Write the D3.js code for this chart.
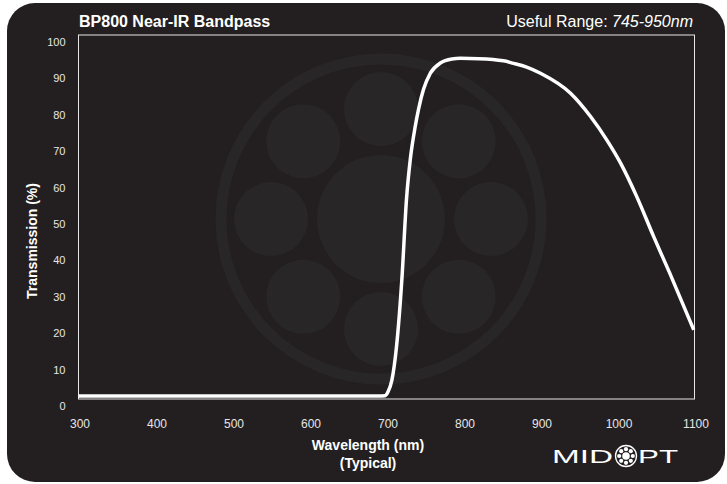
<!DOCTYPE html>
<html>
<head>
<meta charset="utf-8">
<script src="https://cdn.jsdelivr.net/npm/d3@7"></script>
<style>
  html, body { margin: 0; padding: 0; background: #fff; }
  svg { display: block; font-family: "Liberation Sans", Arial, sans-serif; }
</style>
</head>
<body>
<div id="chart"></div>
<script>
// Transmission curve
const wavelengths = [300, 500, 690, 698, 702, 707, 713, 720, 726, 731, 737, 742, 748, 757, 770, 785, 796, 820, 852, 865, 882, 900, 939, 965, 986, 1004, 1025, 1047, 1068, 1099];
const transmission = [0.8, 0.8, 0.8, 0.9, 2, 5.2, 14.4, 33, 55, 66, 74.5, 80, 85, 89.5, 92.3, 93.4, 93.6, 93.5, 92.9, 92.2, 91.2, 89.5, 84, 77.6, 71.2, 64.8, 55.6, 44.6, 34.5, 19];

const xTicks = [300, 400, 500, 600, 700, 800, 900, 1000, 1100];
const yTicks = [0, 10, 20, 30, 40, 50, 60, 70, 80, 90, 100];

const W = 727, H = 484;
const bg = "#231f20";
const ghost = "#292627";

const svg = d3.select("#chart").append("svg")
    .attr("width", W)
    .attr("height", H);

// dark card
svg.append("rect")
    .attr("x", 7).attr("y", 3)
    .attr("width", 718).attr("height", 479)
    .attr("rx", 28).attr("ry", 28)
    .attr("fill", bg);

// faint logo watermark behind the plot
const wm = svg.append("g").attr("transform", "translate(381,219)");
wm.append("circle")
    .attr("r", 160)
    .attr("fill", "none")
    .attr("stroke", ghost)
    .attr("stroke-width", 11);
wm.append("circle").attr("r", 64).attr("fill", ghost);
d3.range(8).forEach(i => {
    const a = i * Math.PI / 4;
    wm.append("circle")
        .attr("cx", 110 * Math.cos(a))
        .attr("cy", 110 * Math.sin(a))
        .attr("r", 37)
        .attr("fill", ghost);
});

const x = d3.scaleLinear().domain([300, 1100]).range([78.5, 694.5]);
const y = d3.scaleLinear().domain([0, 100]).range([399, 35]);

// plot frame
svg.append("rect")
    .attr("x", x(300)).attr("y", y(100))
    .attr("width", x(1100) - x(300))
    .attr("height", y(0) - y(100))
    .attr("fill", "none")
    .attr("stroke", "#e6e6e6")
    .attr("stroke-width", 1);

// axes
const yAxis = svg.append("g")
    .attr("transform", `translate(${x(300)},0)`)
    .call(d3.axisLeft(y).tickValues(yTicks).tickSize(0).tickPadding(13));
yAxis.select(".domain").remove();
yAxis.selectAll("text")
    .attr("transform", "translate(0,7)")
    .style("font-size", "11px")
    .style("fill", "#e6e6e6");

const xAxis = svg.append("g")
    .attr("transform", `translate(0,${y(0)})`)
    .call(d3.axisBottom(x).tickValues(xTicks).tickFormat(d3.format("d")).tickSize(0).tickPadding(20));
xAxis.select(".domain").remove();
xAxis.selectAll("text")
    .attr("dx", 1)
    .style("font-size", "12px")
    .style("fill", "#e6e6e6");

// curve
const pts = wavelengths.map((w, i) => [w, transmission[i]]);
svg.append("path")
    .datum(pts)
    .attr("fill", "none")
    .attr("stroke", "#fff")
    .attr("stroke-width", 3.5)
    .attr("stroke-linejoin", "round")
    .attr("d", d3.line()
        .x(d => x(d[0]))
        .y(d => y(d[1]))
        .curve(d3.curveMonotoneX));

// titles
svg.append("text")
    .attr("x", 79).attr("y", 27)
    .style("font-size", "16px")
    .style("font-weight", "bold")
    .style("fill", "#fff")
    .text("BP800 Near-IR Bandpass");

const range = svg.append("text")
    .attr("x", 693).attr("y", 27)
    .attr("text-anchor", "end")
    .style("font-size", "16px")
    .style("fill", "#fff");
range.append("tspan").text("Useful Range: ");
range.append("tspan").style("font-style", "italic").text("745-950nm");

svg.append("text")
    .attr("transform", "translate(37,241) rotate(-90)")
    .attr("text-anchor", "middle")
    .style("font-size", "14px")
    .style("font-weight", "bold")
    .style("fill", "#fff")
    .text("Transmission (%)");

svg.append("text")
    .attr("x", 368).attr("y", 450)
    .attr("text-anchor", "middle")
    .style("font-size", "14px")
    .style("font-weight", "bold")
    .style("fill", "#fff")
    .text("Wavelength (nm)");

svg.append("text")
    .attr("x", 368).attr("y", 468)
    .attr("text-anchor", "middle")
    .style("font-size", "14px")
    .style("font-weight", "bold")
    .style("fill", "#fff")
    .text("(Typical)");

// MIDOPT logo
svg.append("text")
    .attr("x", 552).attr("y", 463)
    .attr("textLength", 61)
    .attr("lengthAdjust", "spacingAndGlyphs")
    .style("font-size", "19px")
    .style("fill", "#fff")
    .text("MID");
svg.append("text")
    .attr("x", 638).attr("y", 463)
    .attr("textLength", 40)
    .attr("lengthAdjust", "spacingAndGlyphs")
    .style("font-size", "19px")
    .style("fill", "#fff")
    .text("PT");
const logo = svg.append("g").attr("transform", "translate(626,456)");
logo.append("circle")
    .attr("r", 10.5)
    .attr("fill", "none")
    .attr("stroke", "#fff")
    .attr("stroke-width", 1.3);
logo.append("circle").attr("r", 3.8).attr("fill", "#fff");
d3.range(8).forEach(i => {
    const a = i * Math.PI / 4;
    logo.append("circle")
        .attr("cx", 6.8 * Math.cos(a))
        .attr("cy", 6.8 * Math.sin(a))
        .attr("r", 2.1)
        .attr("fill", "#fff");
});
</script>
</body>
</html>
